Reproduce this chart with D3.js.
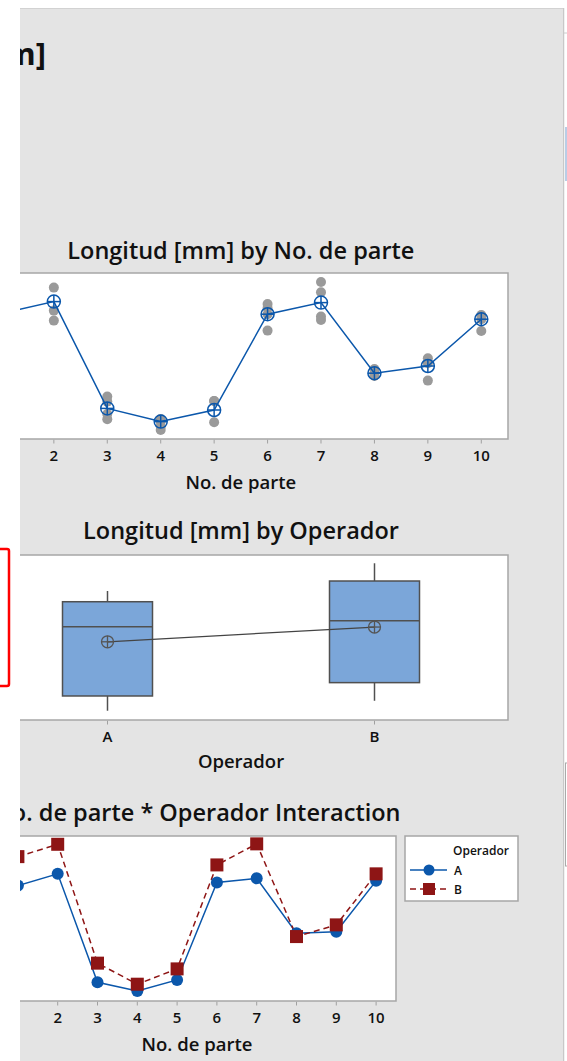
<!DOCTYPE html>
<html><head><meta charset="utf-8">
<script src="https://cdn.jsdelivr.net/npm/d3@7"></script>
<style>
body{margin:0;background:#fff;}
svg{display:block;font-family:"Open Sans","Noto Sans",sans-serif;}
</style>
</head><body>
<svg id="c" width="567" height="1061"></svg>
<script>
// ---------------- DATA ----------------
const reportTitle = "Gage R&R (ANOVA) Report for Longitud [mm]";
const parts = ["1","2","3","4","5","6","7","8","9","10"];
// individual measurements by part (mm)
const partMeasurements = [
  [50.56, 50.54, 50.51, 50.50],
  [50.657, 50.542, 50.492],
  [50.112, 50.087, 50.025, 49.999],
  [50.000, 49.987, 49.962, 49.945],
  [50.090, 50.090, 49.984],
  [50.575, 50.555, 50.524, 50.442],
  [50.685, 50.634, 50.512, 50.495],
  [50.250, 50.229, 50.215],
  [50.304, 50.279, 50.192],
  [50.520, 50.499, 50.440]
];
const partMeans = [50.527, 50.587, 50.053, 49.987, 50.045, 50.524, 50.582, 50.229, 50.265, 50.499];

const operators = ["A","B"];
const boxMin    = [49.945, 49.995];
const boxQ1     = [50.019, 50.086];
const boxMedian = [50.367, 50.397];
const boxQ3     = [50.492, 50.596];
const boxMax    = [50.546, 50.685];
const operatorMeans = [50.291, 50.365];

const interactionA = [50.467, 50.522, 50.012, 49.971, 50.023, 50.481, 50.501, 50.243, 50.250, 50.489];
const interactionB = [50.603, 50.661, 50.102, 50.003, 50.075, 50.564, 50.663, 50.227, 50.282, 50.522];

const chartTitles = ["Longitud [mm] by No. de parte", "Longitud [mm] by Operador", "No. de parte * Operador Interaction"];
const axisTitles = ["No. de parte", "Operador", "No. de parte"];
const legendTitle = "Operador";

// value ranges of the (hidden) y axes
const yDomain1 = [49.90, 50.73];
const yDomain2 = [49.8985, 50.7265];
const yDomain3 = [49.924, 50.700];

// ---------------- STYLE ----------------
const PANEL = "#e4e4e4", FRAME = "#a6a6a6", TXT = "#111";
const BLUE = "#0b57ab", RED = "#8e1515", GRAYDOT = "#9a9a9a", BOXFILL = "#7ba6d9", BOXLINE = "#505050";
const TITLE_FS = 23.5, TICK_FS = 15, AXIS_FS = 18.5;

const svg = d3.select("#c");
svg.append("rect").attr("width",567).attr("height",1061).attr("fill","#fff");

// outside-of-panel bits on the right edge
svg.append("line").attr("x1",563.5).attr("x2",563.5).attr("y1",8).attr("y2",1061).attr("stroke","#c8c8c8").attr("stroke-width",1.5);
svg.append("line").attr("x1",564).attr("x2",567).attr("y1",33).attr("y2",33).attr("stroke","#ccc");
svg.append("rect").attr("x",565).attr("y",127).attr("width",2).attr("height",54).attr("fill","#b9cde6");
svg.append("rect").attr("x",565.5).attr("y",763).attr("width",3).attr("height",103).attr("fill","none").attr("stroke","#aaa");

// red selection frame at far left
svg.append("rect").attr("x",-12).attr("y",549).attr("width",21).attr("height",137).attr("rx",2)
  .attr("fill","none").attr("stroke","#f00").attr("stroke-width",2.5);

// panel
svg.append("defs").append("clipPath").attr("id","pclip")
  .append("rect").attr("x",20).attr("y",8).attr("width",543).attr("height",1053);
svg.append("rect").attr("x",20).attr("y",8).attr("width",543).attr("height",1053).attr("fill",PANEL);
svg.append("line").attr("x1",20).attr("x2",563).attr("y1",8.5).attr("y2",8.5).attr("stroke","#d2d2d2");
const g = svg.append("g").attr("clip-path","url(#pclip)");

// report title (clipped)
g.append("text").attr("x",46).attr("y",65).attr("text-anchor","end")
  .attr("font-size",31).attr("font-weight",700).attr("fill",TXT).text(reportTitle);

function frame(x0,x1,y0,y1){
  g.append("rect").attr("x",x0).attr("y",y0).attr("width",x1-x0).attr("height",y1-y0)
    .attr("fill","#fff").attr("stroke",FRAME).attr("stroke-width",1.5);
}
function xAxisTicks(scale, domain, yBase, labelY){
  domain.forEach(d=>{
    const x = scale(d);
    g.append("line").attr("x1",x).attr("x2",x).attr("y1",yBase+0.75).attr("y2",yBase+4.5).attr("stroke","#a0a0a0");
    g.append("text").attr("x",x).attr("y",labelY).attr("text-anchor","middle")
      .attr("font-size",TICK_FS).attr("font-weight",600).attr("fill",TXT).text(d);
  });
}
function meanMarker(x,y,r,color,w){
  g.append("circle").attr("cx",x).attr("cy",y).attr("r",r).attr("fill","none").attr("stroke",color).attr("stroke-width",w);
  g.append("line").attr("x1",x-r).attr("x2",x+r).attr("y1",y).attr("y2",y).attr("stroke",color).attr("stroke-width",w);
  g.append("line").attr("x1",x).attr("x2",x).attr("y1",y-r).attr("y2",y+r).attr("stroke",color).attr("stroke-width",w);
}

// ---------------- CHART 1 ----------------
{
  const X0=-26.3, X1=508, Y0=273, Y1=439;
  const x = d3.scalePoint().domain(parts).range([X0,X1]).padding(0.5);
  const y = d3.scaleLinear().domain(yDomain1).range([Y1,Y0]);
  g.append("text").attr("x",(X0+X1)/2).attr("y",259).attr("text-anchor","middle")
    .attr("font-size",TITLE_FS).attr("font-weight",600).attr("fill",TXT).text(chartTitles[0]);
  frame(X0,X1,Y0,Y1);
  xAxisTicks(x, parts, Y1, 461);
  g.append("text").attr("x",(X0+X1)/2).attr("y",489).attr("text-anchor","middle")
    .attr("font-size",AXIS_FS).attr("font-weight",600).attr("fill",TXT).text(axisTitles[0]);
  parts.forEach((p,i)=>{
    partMeasurements[i].forEach(v=>{
      g.append("circle").attr("cx",x(p)).attr("cy",y(v)).attr("r",5).attr("fill",GRAYDOT);
    });
  });
  g.append("path").datum(partMeans)
    .attr("d", d3.line().x((d,i)=>x(parts[i])).y(d=>y(d)))
    .attr("fill","none").attr("stroke",BLUE).attr("stroke-width",1.5);
  partMeans.forEach((m,i)=>meanMarker(x(parts[i]), y(m), 6.5, BLUE, 1.5));
}

// ---------------- CHART 2 ----------------
{
  const X0=-26, X1=508, Y0=555, Y1=720;
  const x = d3.scalePoint().domain(operators).range([X0,X1]).padding(0.5);
  const y = d3.scaleLinear().domain(yDomain2).range([Y1,Y0]);
  g.append("text").attr("x",(X0+X1)/2).attr("y",539).attr("text-anchor","middle")
    .attr("font-size",TITLE_FS).attr("font-weight",600).attr("fill",TXT).text(chartTitles[1]);
  frame(X0,X1,Y0,Y1);
  xAxisTicks(x, operators, Y1, 742);
  g.append("text").attr("x",(X0+X1)/2).attr("y",768).attr("text-anchor","middle")
    .attr("font-size",AXIS_FS).attr("font-weight",600).attr("fill",TXT).text(axisTitles[1]);
  const hw = 45;
  operators.forEach((o,i)=>{
    const cx = x(o);
    g.append("line").attr("x1",cx).attr("x2",cx).attr("y1",y(boxMax[i])).attr("y2",y(boxQ3[i])).attr("stroke",BOXLINE).attr("stroke-width",1.5);
    g.append("line").attr("x1",cx).attr("x2",cx).attr("y1",y(boxQ1[i])).attr("y2",y(boxMin[i])).attr("stroke",BOXLINE).attr("stroke-width",1.5);
    g.append("rect").attr("x",cx-hw).attr("y",y(boxQ3[i])).attr("width",2*hw).attr("height",y(boxQ1[i])-y(boxQ3[i]))
      .attr("fill",BOXFILL).attr("stroke",BOXLINE).attr("stroke-width",1.5);
    g.append("line").attr("x1",cx-hw).attr("x2",cx+hw).attr("y1",y(boxMedian[i])).attr("y2",y(boxMedian[i])).attr("stroke",BOXLINE).attr("stroke-width",1.5);
  });
  g.append("path").datum(operatorMeans)
    .attr("d", d3.line().x((d,i)=>x(operators[i])).y(d=>y(d)))
    .attr("fill","none").attr("stroke","#444").attr("stroke-width",1.2);
  operatorMeans.forEach((m,i)=>meanMarker(x(operators[i]), y(m), 6, "#555", 1.3));
}

// ---------------- CHART 3 ----------------
{
  const X0=-2, X1=396, Y0=836, Y1=1001;
  const x = d3.scalePoint().domain(parts).range([X0,X1]).padding(0.5);
  const y = d3.scaleLinear().domain(yDomain3).range([Y1,Y0]);
  g.append("text").attr("x",(X0+X1)/2).attr("y",821).attr("text-anchor","middle")
    .attr("font-size",TITLE_FS).attr("font-weight",600).attr("fill",TXT).text(chartTitles[2]);
  frame(X0,X1,Y0,Y1);
  xAxisTicks(x, parts, Y1, 1023);
  g.append("text").attr("x",(X0+X1)/2).attr("y",1051).attr("text-anchor","middle")
    .attr("font-size",AXIS_FS).attr("font-weight",600).attr("fill",TXT).text(axisTitles[2]);
  const line = d3.line().x((d,i)=>x(parts[i])).y(d=>y(d));
  g.append("path").datum(interactionA).attr("d",line).attr("fill","none").attr("stroke",BLUE).attr("stroke-width",1.5);
  g.append("path").datum(interactionB).attr("d",line).attr("fill","none").attr("stroke",RED).attr("stroke-width",1.5).attr("stroke-dasharray","6,4");
  interactionA.forEach((v,i)=>g.append("circle").attr("cx",x(parts[i])).attr("cy",y(v)).attr("r",6).attr("fill",BLUE));
  const s = 13;
  interactionB.forEach((v,i)=>g.append("rect").attr("x",x(parts[i])-s/2).attr("y",y(v)-s/2).attr("width",s).attr("height",s).attr("fill",RED));

  // legend
  const L = g.append("g");
  L.append("rect").attr("x",405).attr("y",836).attr("width",113).attr("height",65).attr("fill","#fff").attr("stroke",FRAME).attr("stroke-width",1.5);
  L.append("text").attr("x",481).attr("y",855).attr("text-anchor","middle").attr("font-size",12).attr("font-weight",600).attr("fill",TXT).text(legendTitle);
  const rows = [{k:operators[0], y:870, c:BLUE, dash:null, shape:"circle"},{k:operators[1], y:889, c:RED, dash:"6,4", shape:"square"}];
  rows.forEach(r=>{
    L.append("line").attr("x1",410).attr("x2",447).attr("y1",r.y).attr("y2",r.y).attr("stroke",r.c).attr("stroke-width",1.5).attr("stroke-dasharray",r.dash);
    if(r.shape==="circle") L.append("circle").attr("cx",429).attr("cy",r.y).attr("r",5.5).attr("fill",r.c);
    else L.append("rect").attr("x",423).attr("y",r.y-6).attr("width",12).attr("height",12).attr("fill",r.c);
    L.append("text").attr("x",454).attr("y",r.y+4.5).attr("font-size",12).attr("font-weight",600).attr("fill",TXT).text(r.k);
  });
}
</script>
</body></html>
